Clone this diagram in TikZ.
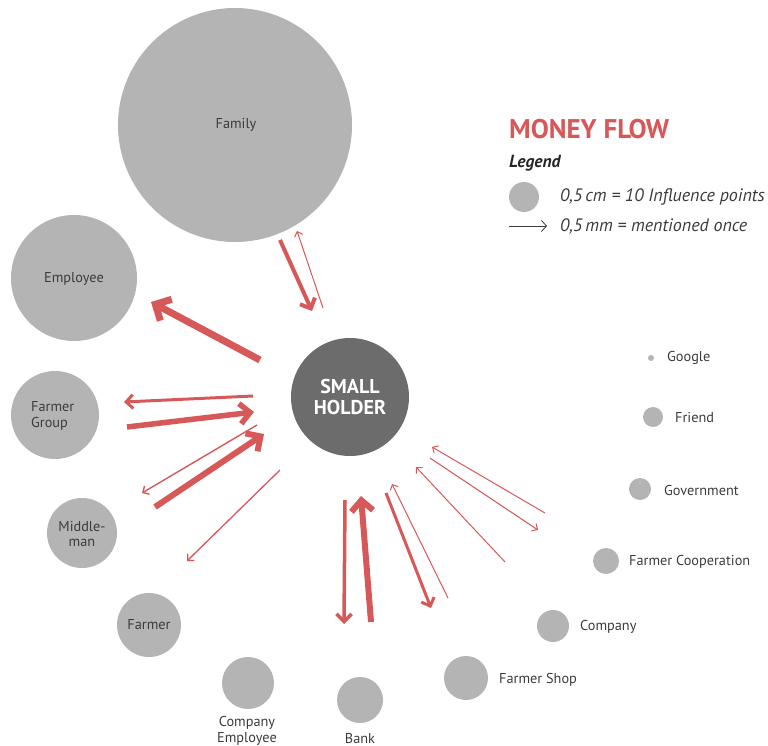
\documentclass[tikz,border=0pt]{standalone}
\usepackage{fontspec}
\setmainfont{PT Sans}
\usetikzlibrary{arrows.meta}
\definecolor{bubgray}{RGB}{180,180,180}
\definecolor{holder}{RGB}{108,108,108}
\definecolor{flowred}{RGB}{214,88,88}
\definecolor{txtgray}{RGB}{60,60,60}
\tikzset{
  bub/.style={circle, fill=bubgray, draw=none, inner sep=0pt, minimum size=#1},
  lbl/.style={text=txtgray, font=\fontsize{14.3}{15.5}\selectfont, inner sep=0pt},
  flow/.style={draw=flowred, line width=#1, -{Straight Barb[length=3pt 1.3, width=6pt 2.6]}},
}
\begin{document}
\begin{tikzpicture}[x=1pt,y=-1pt]
\useasboundingbox (0,0) rectangle (768,746);
% bubbles
\node[bub=234pt] (family) at (235,125) {};
\node[lbl] (familyl) at (236,125) {Family};
\node[bub=126pt] (employee) at (74,278) {};
\node[lbl] (employeel) at (74,279) {Employee};
\node[bub=88pt] (fgroup) at (55,415) {};
\node[lbl, anchor=west, align=left] (fgroupl) at (31,416) {Farmer\\Group};
\node[bub=70pt] (middle) at (82,533) {};
\node[lbl, align=center] (middlel) at (82,534) {Middle-\\man};
\node[bub=64pt] (farmer) at (149,625) {};
\node[lbl] (farmerl) at (149,625) {Farmer};
\node[bub=52pt] (compemp) at (248,683) {};
\node[lbl, align=center] (compempl) at (247,731) {Company\\Employee};
\node[bub=46pt] (bank) at (360,700) {};
\node[lbl] (bankl) at (360,738) {Bank};
\node[bub=44pt] (shop) at (466,678) {};
\node[lbl, anchor=west] (shopl) at (499,680) {Farmer Shop};
\node[bub=32pt] (company) at (553,626) {};
\node[lbl, anchor=west] (companyl) at (580,627) {Company};
\node[bub=26pt] (coop) at (606,561) {};
\node[lbl, anchor=west] (coopl) at (629,562) {Farmer Cooperation};
\node[bub=22pt] (gov) at (640,489) {};
\node[lbl, anchor=west] (govl) at (664,490) {Government};
\node[bub=20pt] (friend) at (653,417) {};
\node[lbl, anchor=west] (friendl) at (675,418) {Friend};
\node[bub=6pt] (google) at (651,358) {};
\node[lbl, anchor=west] (googlel) at (667,358) {Google};
% small holder
\node[circle, fill=holder, minimum size=118pt, inner sep=0pt, text=white, align=center,
      font=\fontsize{20}{21}\selectfont\bfseries] (sh) at (350,397) {SMALL\\HOLDER};
% legend
\node[anchor=west, inner sep=0pt, text=flowred, font=\fontsize{27}{29}\selectfont\bfseries] (title) at (509,129) {MONEY FLOW};
\node[anchor=west, inner sep=0pt, text=black!85, font=\fontsize{17.5}{19}\selectfont\bfseries\itshape] (legend) at (509,163) {Legend};
\node[bub=30pt] (legbub) at (524,197) {};
\node[anchor=west, inner sep=0pt, text=txtgray, font=\fontsize{18}{20}\selectfont\itshape] (legt1) at (560,197) {0,5\,cm = 10 Influence points};
\coordinate (la1) at (509,226);
\coordinate (la2) at (547,226);
\draw[line width=0.8pt, draw=txtgray, -{Straight Barb[length=4pt 1.3, width=9pt 2.6]}] (la1) -- (la2);
\node[anchor=west, inner sep=0pt, text=txtgray, font=\fontsize{18}{20}\selectfont\itshape] (legt2) at (560,226) {0,5\,mm = mentioned once};
% arrow end points
\coordinate (f1a) at (280,240); \coordinate (f1b) at (312,311);
\coordinate (f2a) at (323,308); \coordinate (f2b) at (297,231);
\coordinate (e1a) at (260,360); \coordinate (e1b) at (151,302);
\coordinate (g1a) at (253,396); \coordinate (g1b) at (124,402);
\coordinate (g2a) at (127,427); \coordinate (g2b) at (254,412);
\coordinate (m1a) at (257,425); \coordinate (m1b) at (142,493);
\coordinate (m2a) at (155,507); \coordinate (m2b) at (264,434);
\coordinate (r1a) at (280,470); \coordinate (r1b) at (187,561);
\coordinate (b1a) at (345,500); \coordinate (b1b) at (344,624);
\coordinate (b2a) at (371,622); \coordinate (b2b) at (361,496);
\coordinate (s1a) at (386,493); \coordinate (s1b) at (431,608);
\coordinate (s2a) at (448,598); \coordinate (s2b) at (392,484);
\coordinate (c1a) at (505,562); \coordinate (c1b) at (416,467);
\coordinate (o1a) at (430,458); \coordinate (o1b) at (538,530);
\coordinate (o2a) at (545,513); \coordinate (o2b) at (432,447);
% arrows
\draw[flow=4pt] (f1a) -- (f1b);
\draw[flow=1pt] (f2a) -- (f2b);
\draw[flow=7pt] (e1a) -- (e1b);
\draw[flow=3pt] (g1a) -- (g1b);
\draw[flow=5.5pt] (g2a) -- (g2b);
\draw[flow=1.4pt] (m1a) -- (m1b);
\draw[flow=6pt] (m2a) -- (m2b);
\draw[flow=1.3pt] (r1a) -- (r1b);
\draw[flow=3.5pt] (b1a) -- (b1b);
\draw[flow=6pt] (b2a) -- (b2b);
\draw[flow=3pt] (s1a) -- (s1b);
\draw[flow=1pt] (s2a) -- (s2b);
\draw[flow=1pt] (c1a) -- (c1b);
\draw[flow=1pt] (o1a) -- (o1b);
\draw[flow=1pt] (o2a) -- (o2b);
\end{tikzpicture}
\end{document}
